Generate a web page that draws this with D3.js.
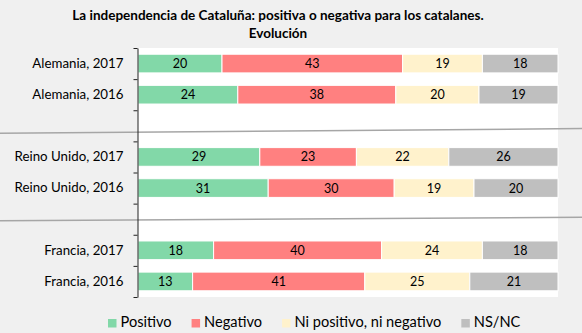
<!DOCTYPE html>
<html>
<head>
<meta charset="utf-8">
<script src="https://cdn.jsdelivr.net/npm/d3@7"></script>
<style>
  html, body { margin: 0; padding: 0; background: #f0f0f0; }
  svg { display: block; font-family: Lato, 'Open Sans', sans-serif; }
</style>
</head>
<body>
<svg id="chart" width="582" height="333"></svg>
<script>
  // rows top to bottom, null = empty spacer row between countries
  const rows = ['Alemania, 2017', 'Alemania, 2016', null, 'Reino Unido, 2017', 'Reino Unido, 2016', null, 'Francia, 2017', 'Francia, 2016'];
  const series = ['Positivo', 'Negativo', 'Ni positivo, ni negativo', 'NS/NC'];
  const positivo = [20, 24, 29, 31, 18, 13];
  const negativo = [43, 38, 23, 30, 40, 41];
  const neutro = [19, 20, 22, 19, 24, 25];
  const nsnc = [18, 19, 26, 20, 18, 21];
  const colors = ['#82d8a8', '#ff8080', '#fff2cc', '#bfbfbf'];

  const width = 582;
  const height = 333;
  const margin = { top: 48, right: 24, bottom: 36, left: 138 };
  const svg = d3.select('#chart');

  const labels = rows.filter(d => d);
  const data = labels.map((label, i) => ({
    label,
    'Positivo': positivo[i],
    'Negativo': negativo[i],
    'Ni positivo, ni negativo': neutro[i],
    'NS/NC': nsnc[i]
  }));

  const slotKeys = rows.map((d, i) => d || 'gap' + i);

  const x = d3.scaleLinear()
    .domain([0, 1])
    .range([margin.left, width - margin.right]);

  const y = d3.scaleBand()
    .domain(slotKeys)
    .range([margin.top, height - margin.bottom])
    .paddingInner(0.4)
    .paddingOuter(0.2);

  const color = d3.scaleOrdinal(series, colors);

  // 100% stacked: each row normalised to its own total
  const stacked = d3.stack()
    .keys(series)
    .offset(d3.stackOffsetExpand)(data);

  // plot area
  svg.append('rect')
    .attr('x', x(0))
    .attr('y', margin.top)
    .attr('width', x(1) - x(0))
    .attr('height', height - margin.bottom - margin.top)
    .attr('fill', '#fff');

  // title
  const title = svg.append('text')
    .attr('text-anchor', 'middle')
    .attr('font-weight', 'bold')
    .attr('font-size', 13.5)
    .attr('fill', '#000');
  title.append('tspan').attr('x', 278).attr('y', 20)
    .text('La independencia de Cataluña: positiva o negativa para los catalanes.');
  title.append('tspan').attr('x', 278).attr('y', 38)
    .text('Evolución');

  const layer = svg.append('g')
    .selectAll('g')
    .data(stacked)
    .enter().append('g')
    .attr('fill', d => color(d.key));

  layer.selectAll('rect')
    .data(d => d)
    .enter().append('rect')
    .attr('x', d => x(d[0]))
    .attr('y', d => y(d.data.label))
    .attr('width', d => x(d[1]) - x(d[0]))
    .attr('height', y.bandwidth())
    .attr('stroke', '#fff')
    .attr('stroke-width', 1);

  layer.selectAll('text')
    .data(d => d.map(p => ({ p, key: d.key })))
    .enter().append('text')
    .attr('x', d => (x(d.p[0]) + x(d.p[1])) / 2)
    .attr('y', d => y(d.p.data.label) + y.bandwidth() / 2)
    .attr('dy', '0.36em')
    .attr('text-anchor', 'middle')
    .attr('font-size', 12.5)
    .attr('fill', '#000')
    .text(d => d.p.data[d.key]);

  // separators between countries, slightly tilted, through the spacer rows
  const gaps = slotKeys.filter(k => k.startsWith('gap'));
  const sepLeft = [0.24, 0.05];
  const sepRight = [0.09, -0.06];
  svg.append('g')
    .selectAll('line')
    .data(gaps)
    .enter().append('line')
    .attr('x1', 0)
    .attr('x2', width)
    .attr('y1', (d, i) => y(d) + y.bandwidth() / 2 + sepLeft[i] * y.step())
    .attr('y2', (d, i) => y(d) + y.bandwidth() / 2 + sepRight[i] * y.step())
    .attr('stroke', '#a6a6a6')
    .attr('stroke-width', 1.5);

  // category labels
  const yAxis = svg.append('g')
    .attr('transform', `translate(${x(0) - 0.5},0)`)
    .call(d3.axisLeft(y).tickSize(0).tickPadding(14)
      .tickFormat(d => d.startsWith('gap') ? '' : d));
  yAxis.select('.domain').remove();
  yAxis.selectAll('text')
    .attr('font-family', 'Lato, sans-serif')
    .attr('font-size', 13.3)
    .attr('fill', '#000');

  // axis line with ticks on the row boundaries
  const yEdges = d3.scaleLinear()
    .domain([0, rows.length])
    .range([margin.top, height - margin.bottom]);
  const edgeAxis = svg.append('g')
    .attr('transform', `translate(${x(0) - 0.5},0)`)
    .call(d3.axisLeft(yEdges).ticks(rows.length).tickSize(4).tickSizeOuter(0).tickFormat(''));
  edgeAxis.select('.domain').attr('stroke', '#222');
  edgeAxis.selectAll('.tick line').attr('stroke', '#222');

  // legend
  const legend = svg.append('g')
    .attr('transform', `translate(108, ${height - 6})`);
  let cursor = 0;
  series.forEach((s, i) => {
    const item = legend.append('g').attr('transform', `translate(${cursor},0)`);
    item.append('rect')
      .attr('x', 0)
      .attr('y', -8)
      .attr('width', 8.5)
      .attr('height', 8.5)
      .attr('fill', colors[i]);
    const t = item.append('text')
      .attr('x', 12.5)
      .attr('y', 0)
      .attr('font-size', 14.6)
      .attr('fill', '#000')
      .text(s);
    cursor += 12.5 + t.node().getComputedTextLength() + 20;
  });
</script>
</body>
</html>
